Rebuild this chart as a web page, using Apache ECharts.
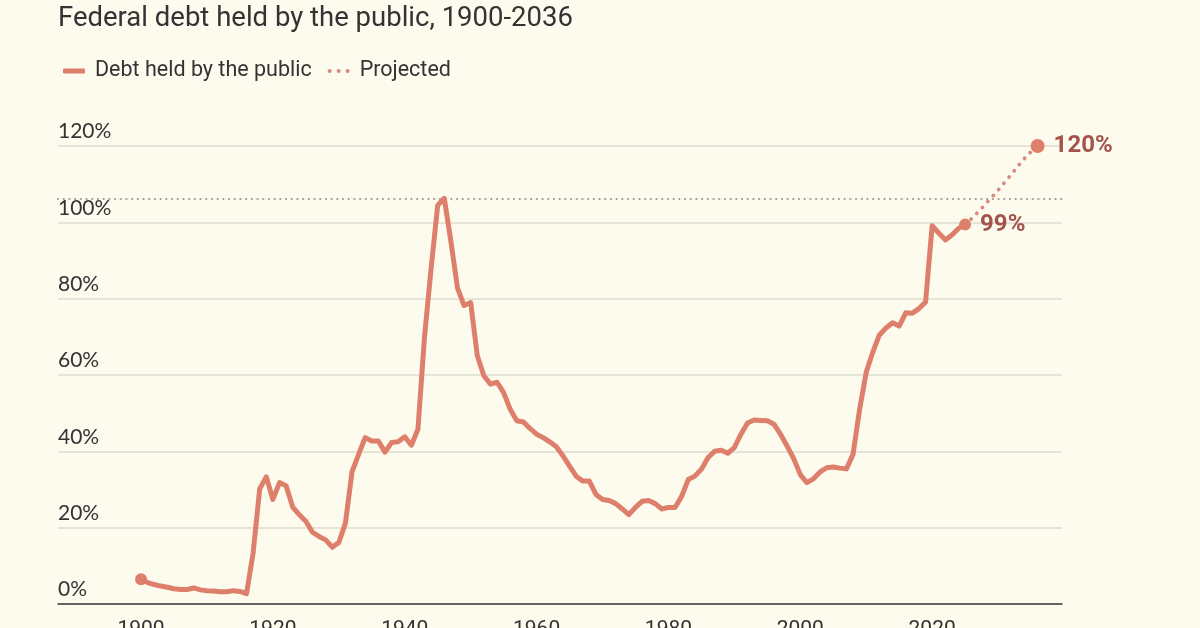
<!DOCTYPE html>
<html>
<head>
<meta charset="utf-8">
<script src="https://cdn.jsdelivr.net/npm/echarts@6/dist/echarts.min.js"></script>
<style>
html,body{margin:0;padding:0;background:#fdfaee;}
#c{width:1200px;height:628px;}
</style>
</head>
<body>
<div id="c"></div>
<script>
// ---- data ----
const titleText = 'Federal debt held by the public, 1900-2036';
const seriesNames = ['Debt held by the public', 'Projected'];
const histStartYear = 1900;
// Debt held by the public, % of GDP, 1900-2025
const histValues = [
  6.5, 5.6, 5.1, 4.7, 4.4, 4.0, 3.8, 3.8, 4.2, 3.7,      // 1900-1909
  3.5, 3.4, 3.2, 3.2, 3.5, 3.3, 2.7, 13.4, 30.2, 33.3,   // 1910-1919
  27.4, 31.8, 31.0, 25.4, 23.4, 21.7, 18.8, 17.7, 16.8, 14.9, // 1920-1929
  16.1, 21.2, 34.6, 39.2, 43.6, 42.7, 42.7, 39.8, 42.3, 42.5, // 1930-1939
  43.8, 41.6, 45.8, 70.0, 88.0, 104.5, 106.3, 95.0, 82.8, 78.2, // 1940-1949
  79.0, 65.1, 59.8, 57.6, 58.1, 55.4, 51.0, 48.0, 47.7, 46.0, // 1950-1959
  44.5, 43.6, 42.5, 41.2, 38.8, 36.1, 33.5, 32.2, 32.2, 28.7, // 1960-1969
  27.4, 27.1, 26.3, 24.9, 23.4, 25.3, 26.9, 27.1, 26.3, 24.9, // 1970-1979
  25.3, 25.3, 28.2, 32.6, 33.5, 35.3, 38.3, 40.0, 40.3, 39.5, // 1980-1989
  41.0, 44.5, 47.4, 48.2, 48.1, 48.0, 47.1, 44.5, 41.4, 38.1, // 1990-1999
  33.9, 31.8, 32.8, 34.6, 35.7, 35.9, 35.6, 35.4, 39.2, 51.0, // 2000-2009
  60.7, 66.0, 70.5, 72.3, 73.7, 72.8, 76.3, 76.2, 77.4, 79.1, // 2010-2019
  99.1, 97.2, 95.4, 96.7, 98.4, 99.4                          // 2020-2025
];
const projYears = [2025, 2026, 2027, 2028, 2029, 2030, 2031, 2032, 2033, 2034, 2035, 2036];
const projValues = [99.4, 101.0, 102.7, 104.6, 106.5, 108.4, 110.5, 112.5, 114.7, 116.7, 118.5, 120.0];
const xTickLabels = [1900, 1920, 1940, 1960, 1980, 2000, 2020];
const yTicks = [0, 20, 40, 60, 80, 100, 120];

// ---- build ----
const histData = histValues.map((v, i) => [histStartYear + i, v]);
const projData = projYears.map((y, i) => [y, projValues[i]]);
const peakValue = Math.max(...histValues);
const firstPt = histData[0];
const lastHist = histData[histData.length - 1];
const lastProj = projData[projData.length - 1];

const lineColor = '#dd7f6b';
const projColor = '#d98a7c';
const labelColor = '#a3544a';
const textColor = '#333333';

const endLabel = {
  show: true, position: 'right', distance: 9,
  formatter: p => Math.round(p.value[1]) + '%',
  fontSize: 24, fontWeight: 'bold', color: labelColor, fontFamily: 'Roboto'
};

const chart = echarts.init(document.getElementById('c'), null, {renderer: 'canvas'});
chart.setOption({
  backgroundColor: '#fdfaee',
  animation: false,
  title: {
    text: titleText, left: 53, top: 0,
    textStyle: {fontSize: 27.5, fontWeight: 'normal', color: textColor, fontFamily: 'Roboto'}
  },
  legend: {
    left: 58, top: 55, itemWidth: 22, itemHeight: 5, itemGap: 16,
    textStyle: {fontSize: 21.5, color: textColor, fontFamily: 'Roboto', padding: [0, 0, 0, 5]},
    data: [
      {name: seriesNames[0], icon: 'roundRect', itemStyle: {color: lineColor}},
      {name: seriesNames[1], icon: 'path://M0,2A2,2,0,1,1,4,2A2,2,0,1,1,0,2ZM9,2A2,2,0,1,1,13,2A2,2,0,1,1,9,2ZM18,2A2,2,0,1,1,22,2A2,2,0,1,1,18,2Z', itemStyle: {color: projColor}}
    ]
  },
  grid: {left: 58, right: 138, top: 146, bottom: 24, containLabel: false, outerBoundsMode: 'none'},
  xAxis: {
    type: 'value', min: 1887.4, max: 2039.7,
    axisLine: {show: true, lineStyle: {color: '#3a3a3a', width: 1.5}},
    axisTick: {show: false},
    splitLine: {show: false},
    axisLabel: {customValues: xTickLabels, formatter: v => String(v), fontSize: 21, color: textColor, fontFamily: 'Roboto', margin: 15}
  },
  yAxis: {
    type: 'value', min: yTicks[0], max: yTicks[yTicks.length - 1], interval: 20,
    axisLine: {show: false}, axisTick: {show: false},
    splitLine: {lineStyle: {color: '#dedbd2', width: 1.5}},
    axisLabel: {
      inside: true, margin: 0, verticalAlign: 'bottom', padding: [0, 0, 4, 0],
      formatter: '{value}%', fontSize: 21, color: textColor, fontFamily: 'Lato'
    }
  },
  series: [
    {
      name: seriesNames[0], type: 'line', data: histData, showSymbol: false,
      color: lineColor,
      lineStyle: {color: lineColor, width: 5, join: 'round', cap: 'round'},
      z: 4,
      markLine: {
        silent: true, symbol: 'none', label: {show: false},
        lineStyle: {color: '#9c9c9c', width: 2.2, type: [0.1, 5.6], cap: 'round'},
        data: [{yAxis: peakValue}], z: 2
      }
    },
    {
      name: seriesNames[1], type: 'line', data: projData, showSymbol: false,
      color: projColor,
      lineStyle: {color: projColor, width: 3.8, type: [0.1, 8], cap: 'round'},
      z: 3
    },
    {
      name: 'points', type: 'scatter', z: 5, color: lineColor,
      itemStyle: {color: lineColor, opacity: 1},
      data: [
        {value: firstPt, symbolSize: 12},
        {value: lastHist, symbolSize: 12, label: endLabel},
        {value: lastProj, symbolSize: 14, label: endLabel}
      ]
    }
  ]
});
</script>
</body>
</html>
